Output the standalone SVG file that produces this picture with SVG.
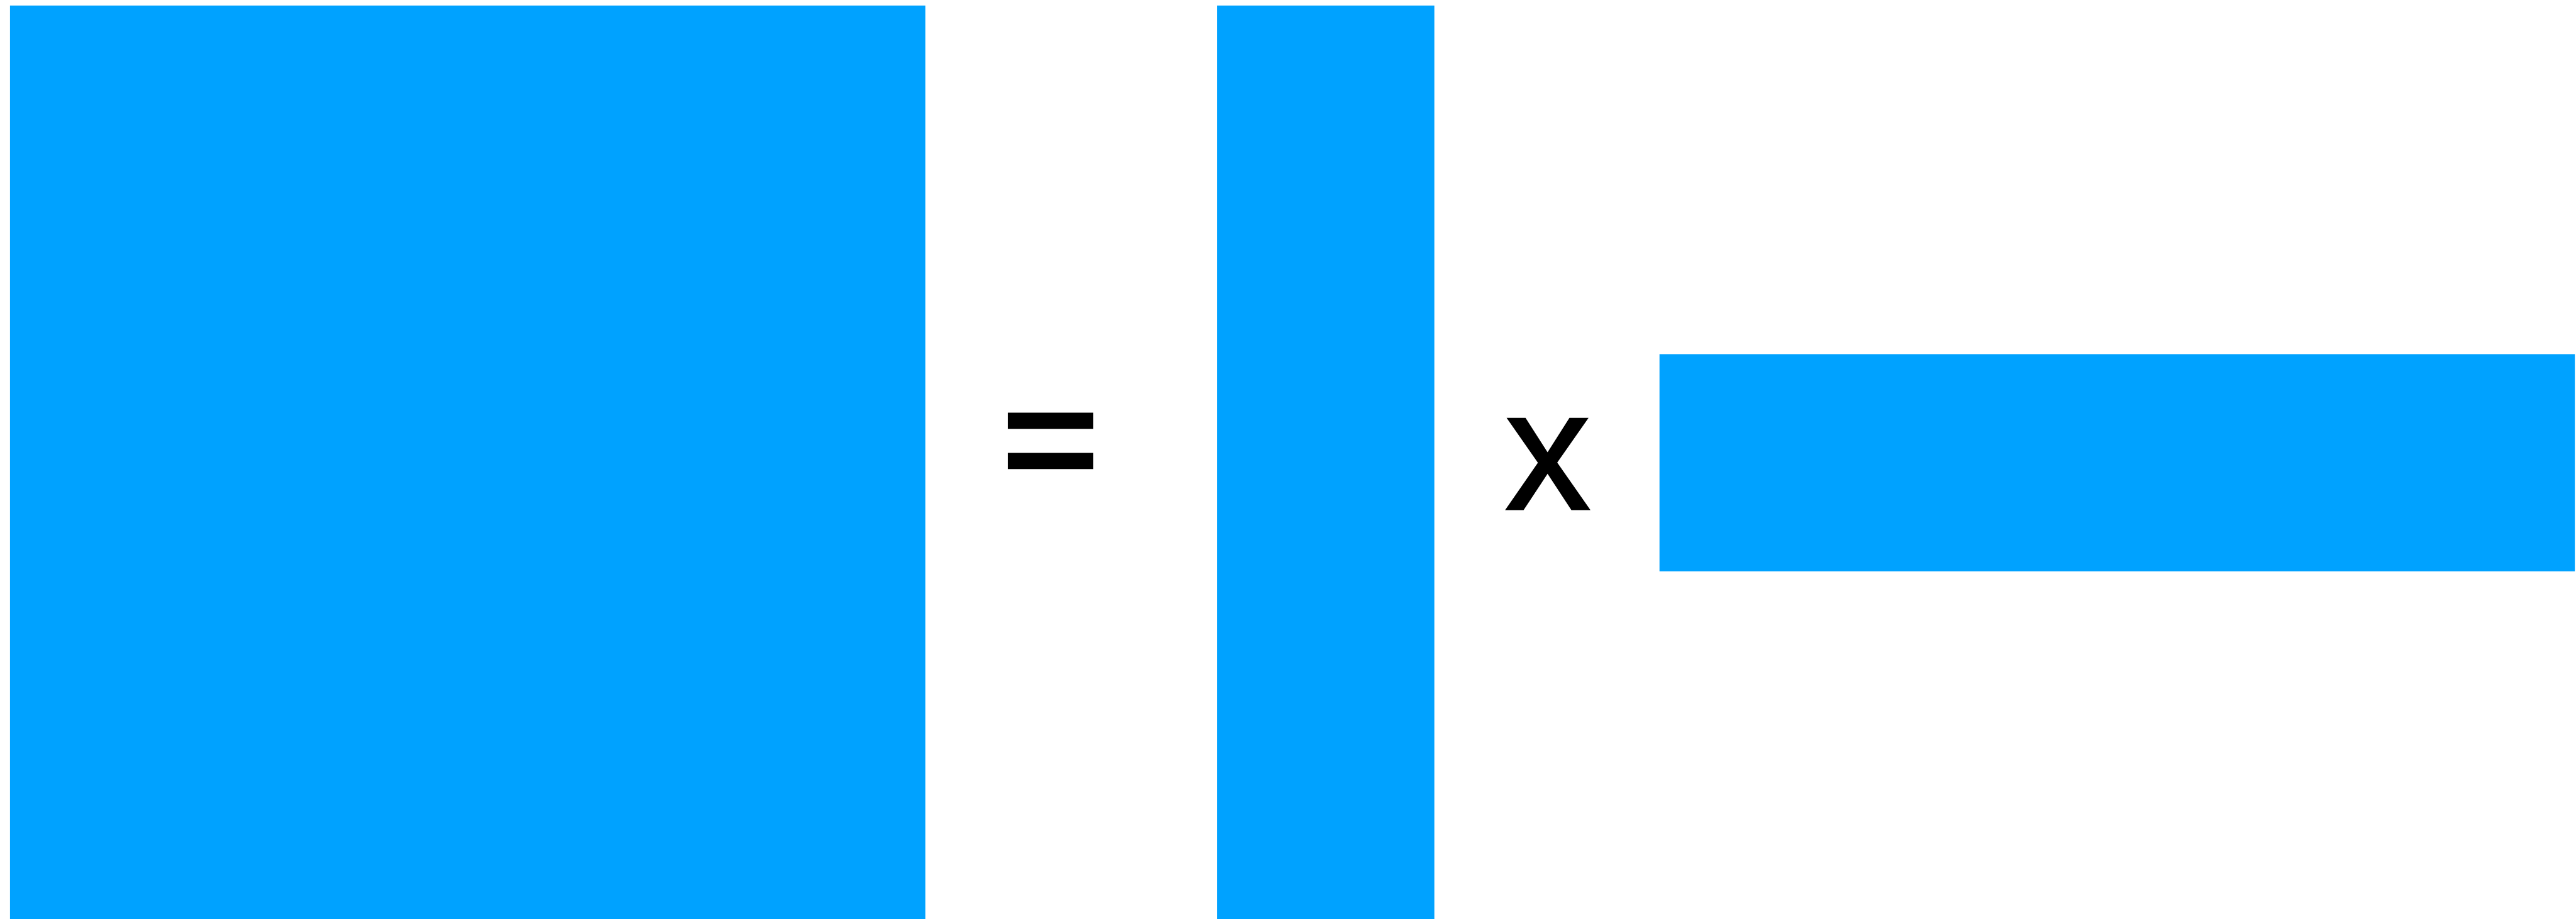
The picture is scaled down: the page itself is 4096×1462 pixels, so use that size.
<svg xmlns="http://www.w3.org/2000/svg" width="4096" height="1462" viewBox="0 0 4096 1462">
<style>
.blk{fill:#00A2FF;}
.op{font-family:"Liberation Sans",Arial,sans-serif;fill:#000;}
</style>
<rect width="4096" height="1462" fill="#fff"/>
<g id="matrix-a"><rect class="blk" x="15.9" y="8.8" width="1455.5" height="1453.2"/></g>
<g id="equals"><text class="op" x="1670.5" y="777" font-size="270" font-weight="bold" text-anchor="middle" transform="translate(1670.5 802) scale(1 0.88) translate(-1670.5 -802)">=</text></g>
<g id="matrix-b"><rect class="blk" x="1935.1" y="8.8" width="345.6" height="1453.2"/></g>
<g id="times"><text class="op" x="2393" y="810" font-size="272" stroke="#000" stroke-width="3">x</text></g>
<g id="matrix-c"><rect class="blk" x="2638.7" y="563.4" width="1455.5" height="345.6"/></g>
<g id="connectors"></g>
</svg>
